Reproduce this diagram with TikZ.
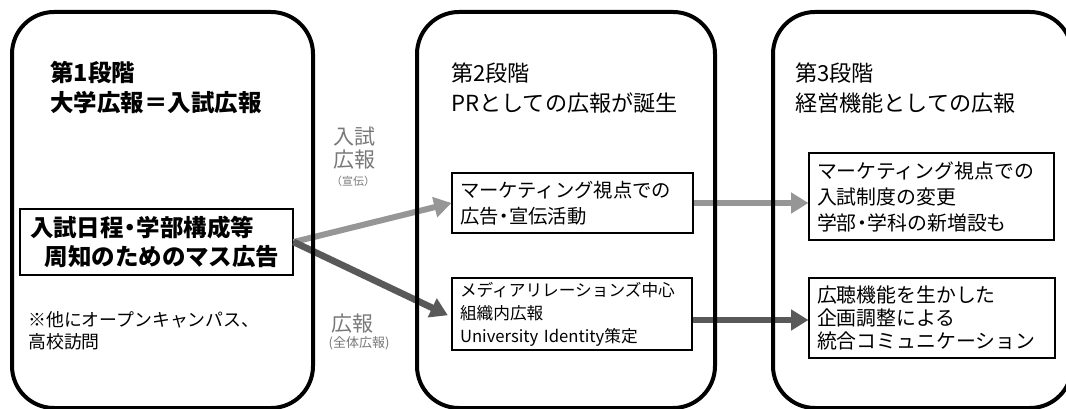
\documentclass[tikz,border=0pt]{standalone}
\usepackage{fontspec}
\setmainfont{Noto Sans CJK JP}
\usetikzlibrary{arrows.meta,calc}
\definecolor{lightarr}{RGB}{150,150,150}
\definecolor{darkarr}{RGB}{89,89,89}
\definecolor{labelgray}{RGB}{120,120,120}
\newcommand{\ndot}{\makebox[0.55em]{・}}
\begin{document}
\begin{tikzpicture}[x=0.75pt,y=-0.75pt,
  panel/.style={draw=black, line width=3pt, rounded corners=31.5pt},
  sbox/.style={draw=black, line width=0.8pt, align=left, inner ysep=0pt},
  ttl/.style={anchor=base west, inner sep=0pt},
  lbl/.style={anchor=base, inner sep=0pt, text=labelgray},
  lightarrow/.style={draw=lightarr, line width=4.5pt, -{Triangle[length=13pt,width=15pt]}},
  darkarrow/.style={draw=darkarr, line width=5pt, -{Triangle[length=13pt,width=15pt]}}]
\useasboundingbox (0,0) rectangle (1066,409);
\clip (0,0) rectangle (1066,409);

% boxes
\node[sbox, line width=1pt, minimum width=204.75pt, minimum height=49.5pt, text width=189.75pt, inner xsep=7.5pt,
  font=\bfseries\fontsize{17.6pt}{21.75pt}\selectfont] (b1) at (156.5,242)
  {入試日程\ndot 学部構成等\\\hspace*{11pt}周知のためのマス広告};
\node[sbox, minimum width=180.75pt, minimum height=45pt, text width=168.75pt, inner xsep=6pt,
  font=\fontsize{14.5pt}{19.5pt}\selectfont] (b2a) at (572.5,203)
  {マーケティング視点での\\広告\ndot 宣伝活動};
\node[sbox, minimum width=180pt, minimum height=54pt, text width=168pt, inner xsep=6pt,
  font=\fontsize{12.5pt}{17.2pt}\selectfont] (b2b) at (572,314)
  {メディアリレーションズ中心\\組織内広報\\University Identity策定};
\node[sbox, minimum width=183.75pt, minimum height=65.25pt, text width=171.75pt, inner xsep=6pt,
  font=\fontsize{14.9pt}{19.5pt}\selectfont] (b3a) at (931.5,196.5)
  {マーケティング視点での\\入試制度の変更\\学部\ndot 学科の新増設も};
\node[sbox, minimum width=184.5pt, minimum height=60pt, text width=172.5pt, inner xsep=6pt,
  font=\fontsize{14.9pt}{17.6pt}\selectfont] (b3b) at (932,318)
  {広聴機能を生かした\\企画調整による\\統合コミュニケーション};

% titles
\node[ttl, font=\bfseries\fontsize{17.6pt}{20pt}\selectfont] (t1a) at (50,82) {第1段階};
\node[ttl, font=\bfseries\fontsize{17.6pt}{20pt}\selectfont] (t1b) at (50,112) {大学広報＝入試広報};
\node[ttl, font=\fontsize{16.6pt}{20pt}\selectfont] (t2a) at (451,81.5) {第2段階};
\node[ttl, font=\fontsize{16.6pt}{20pt}\selectfont] (t2b) at (451,111.5) {PRとしての広報が誕生};
\node[ttl, font=\fontsize{16.6pt}{20pt}\selectfont] (t3a) at (795,81.5) {第3段階};
\node[ttl, font=\fontsize{16.6pt}{20pt}\selectfont] (t3b) at (795,111.5) {経営機能としての広報};

% note
\node[ttl, font=\fontsize{13.4pt}{16pt}\selectfont] (n1) at (28,326.5) {※他にオープンキャンパス、};
\node[ttl, font=\fontsize{13.4pt}{16pt}\selectfont] (n2) at (28,348.5) {高校訪問};

% arrow labels
\node[lbl, font=\fontsize{15.75pt}{18pt}\selectfont] (la1) at (354,145) {入試};
\node[lbl, font=\fontsize{15.75pt}{18pt}\selectfont] (la2) at (354,168) {広報};
\node[lbl, font=\fontsize{8.25pt}{10pt}\selectfont] (la3) at (353,186) {（宣伝）};
\node[lbl, font=\fontsize{15.75pt}{18pt}\selectfont] (lb1) at (352,331) {広報};
\node[lbl, font=\fontsize{9.75pt}{12pt}\selectfont] (lb2) at (359,347) {(全体広報)};

% arrows
\draw[lightarrow] (b1.east) -- (b2a.west);
\draw[darkarrow, shorten >=3pt] (b1.east) -- ($(b2b.west)+(0,3)$);
\draw[lightarrow] (b2a.east) -- (b2a.east -| b3a.west);
\coordinate (d1) at ($(b2b.east)+(0,6)$);
\draw[darkarrow] (d1) -- (d1 -| b3b.west);

% panels
\draw[panel] (12,12) rectangle (313,408);
\draw[panel] (417,12) rectangle (715,408);
\draw[panel] (773,12) rectangle (1072,408);
\end{tikzpicture}
\end{document}
